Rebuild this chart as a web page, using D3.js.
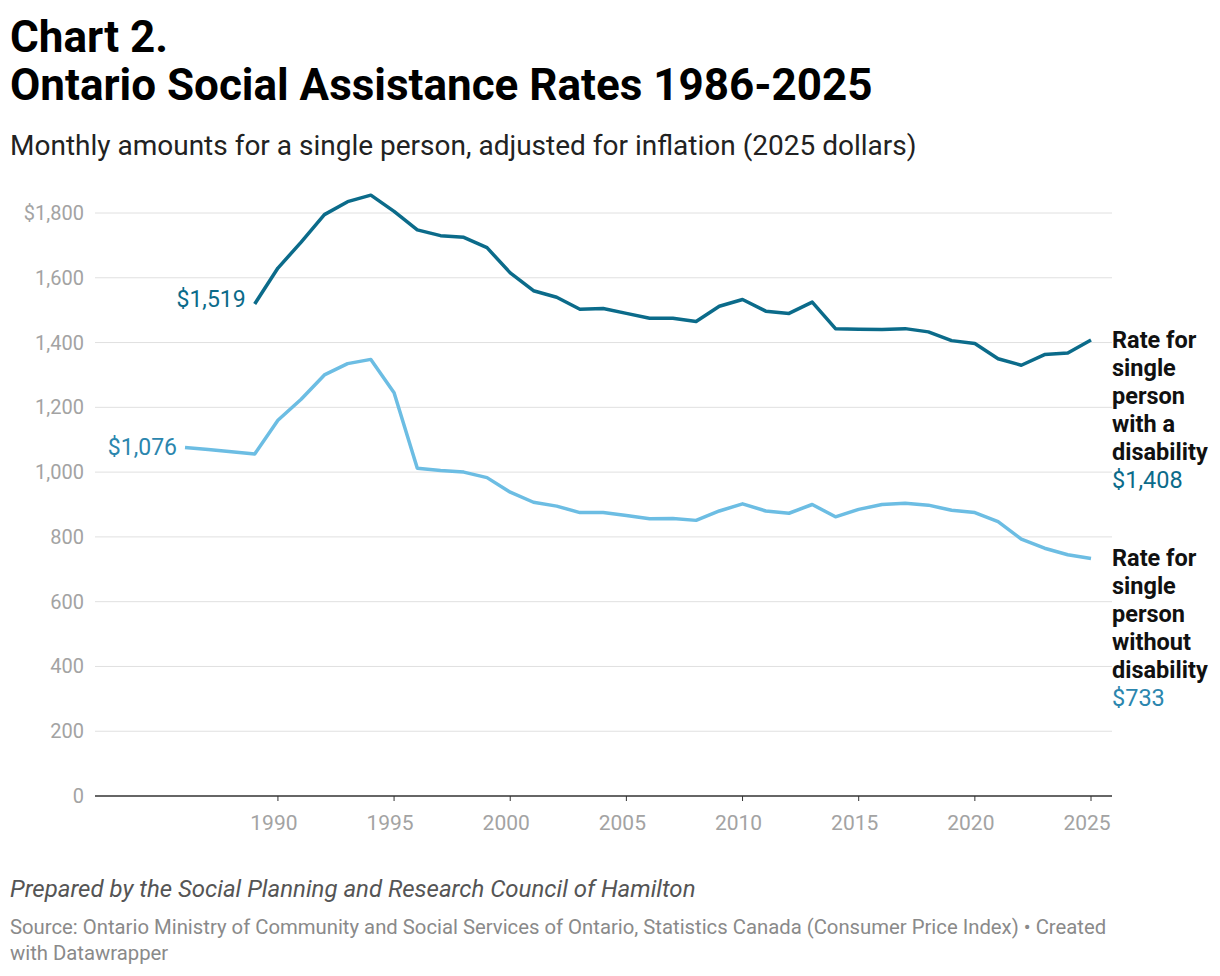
<!DOCTYPE html>
<html><head><meta charset="utf-8">
<script src="https://cdn.jsdelivr.net/npm/d3@7"></script>
<style>body{margin:0;background:#fff;font-family:Roboto,sans-serif}</style>
</head><body>
<svg id="chart" width="1220" height="976"></svg>
<script>
var years = d3.range(1986, 2026);
var disabilityYears = d3.range(1989, 2026);
var disability = [1519,1630,1710,1795,1835,1855,1805,1748,1730,1725,1693,1615,1560,1540,1503,1505,1490,1475,1475,1465,1512,1533,1497,1490,1525,1443,1441,1440,1443,1433,1406,1397,1350,1330,1363,1368,1408];
var noDisability = [1076,1070,1063,1056,1160,1225,1300,1335,1348,1245,1012,1005,1000,983,938,907,895,875,875,866,856,857,851,880,902,880,873,900,862,885,900,904,898,882,875,847,793,765,745,733];
var yTicks = [0,200,400,600,800,1000,1200,1400,1600,1800];
var xTicks = [1990,1995,2000,2005,2010,2015,2020,2025];

var svg = d3.select('#chart');
var x = d3.scaleLinear().domain([1986, 2025]).range([185, 1091]);
var y = d3.scaleLinear().domain([0, 1800]).range([796, 213]);
var dark = '#0b6b8a', light = '#6cbde3';

svg.append('text').attr('x',10).attr('y',52).attr('font-size',44).attr('font-weight',700).text('Chart 2.');
svg.append('text').attr('x',10).attr('y',100).attr('font-size',44).attr('font-weight',700).text('Ontario Social Assistance Rates 1986-2025');
svg.append('text').attr('x',10).attr('y',155).attr('font-size',28).attr('fill','#222').text('Monthly amounts for a single person, adjusted for inflation (2025 dollars)');

// grid + y labels
yTicks.forEach(function(t){
  if (t > 0) svg.append('line').attr('x1',95).attr('x2',1112).attr('y1',y(t)).attr('y2',y(t)).attr('stroke','#e0e0e0');
  svg.append('text').attr('x',84).attr('text-anchor','end').attr('y',y(t)+7)
    .attr('font-size',20).attr('fill','#a3a3a3').text(t==1800?'$1,800':d3.format(',')(t));
});
svg.append('line').attr('x1',95).attr('x2',1112).attr('y1',y(0)).attr('y2',y(0)).attr('stroke','#333').attr('stroke-width',1.5);
xTicks.forEach(function(t){
  svg.append('line').attr('x1',x(t)).attr('x2',x(t)).attr('y1',796).attr('y2',801).attr('stroke','#333');
  svg.append('text').attr('x',x(t)-4).attr('y',830).attr('text-anchor','middle').attr('font-size',21).attr('fill','#a3a3a3').text(t);
});

var line = d3.line().x(function(d){return x(d[0]);}).y(function(d){return y(d[1]);});
svg.append('path').attr('d',line(years.map(function(yr,i){return [yr,noDisability[i]];})))
  .attr('fill','none').attr('stroke',light).attr('stroke-width',3.5).attr('stroke-linejoin','round');
svg.append('path').attr('d',line(disabilityYears.map(function(yr,i){return [yr,disability[i]];})))
  .attr('fill','none').attr('stroke',dark).attr('stroke-width',3.5).attr('stroke-linejoin','round');

svg.append('text').attr('x',x(1989)-9).attr('y',y(disability[0])+3).attr('text-anchor','end').attr('font-size',23).attr('fill',dark).text('$1,519');
svg.append('text').attr('x',x(1986)-8).attr('y',y(noDisability[0])+8).attr('text-anchor','end').attr('font-size',23).attr('fill','#2b86ae').text('$1,076');

function endLabel(lines, val, top, col){
  lines.forEach(function(l,i){
    svg.append('text').attr('x',1112).attr('y',top+i*28).attr('font-size',23.5).attr('font-weight',700).attr('fill','#111').text(l);
  });
  svg.append('text').attr('x',1112).attr('y',top+lines.length*28).attr('font-size',23.5).attr('fill',col).text(val);
}
endLabel(['Rate for','single','person','with a','disability'], '$'+d3.format(',')(disability[disability.length-1]), 348, dark);
endLabel(['Rate for','single','person','without','disability'], '$'+noDisability[noDisability.length-1], 566, '#2b86ae');

svg.append('text').attr('x',10).attr('y',897).attr('font-size',24).attr('font-style','italic').attr('fill','#555').text('Prepared by the Social Planning and Research Council of Hamilton');
svg.append('text').attr('x',10).attr('y',934).attr('font-size',20.3).attr('fill','#8a8a8a').text('Source: Ontario Ministry of Community and Social Services of Ontario, Statistics Canada (Consumer Price Index)  • Created');
svg.append('text').attr('x',10).attr('y',960).attr('font-size',20.3).attr('fill','#8a8a8a').text('with Datawrapper');
</script>
</body></html>
